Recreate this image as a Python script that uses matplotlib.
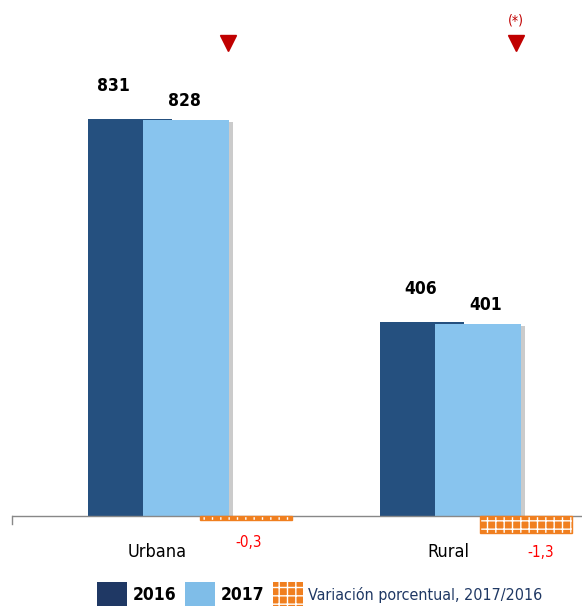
import numpy as np
import matplotlib
matplotlib.use("Agg")
import matplotlib.pyplot as plt
import matplotlib.patheffects as pe
from matplotlib.patches import Patch
from matplotlib.transforms import blended_transform_factory

plt.rcParams['font.family'] = ['DejaVu Sans']
plt.rcParams['font.stretch'] = 'condensed'

categories = ["Urbana", "Rural"]
values_2016 = [831, 406]
values_2017 = [828, 401]
variation = [-0.3, -1.3]
variation_labels = ["-0,3", "-1,3"]
flags = ["", "(*)"]

dark = "#25507F"
light = "#88C4EE"
orange = "#F07F1F"

fig = plt.figure(figsize=(5.82, 6.06), dpi=100)
ax = fig.add_axes([12 / 582, 1 - 540 / 606, 570 / 582, 540 / 606])
ax2 = ax.twinx()

x = np.arange(len(categories))
shadow = [pe.SimplePatchShadow(offset=(2.5, -1), shadow_rgbFace="#999999", alpha=0.5), pe.Normal()]

ax.bar(x - 0.192, values_2016, width=0.288, color=dark, zorder=2)
ax.bar(x, values_2017, width=0.295, color=light, zorder=3, path_effects=shadow)

xv = x + np.array([0.205, 0.165])
ax2.bar(xv, variation, width=0.315, color=orange, edgecolor="white", hatch="++", linewidth=0, zorder=2)
ax2.bar(xv, variation, width=0.315, fill=False, edgecolor=orange, linewidth=1, zorder=3)

ax.set_xlim(-0.596, 1.356)
ax.set_ylim(-50.2, 1079.5)
ax2.set_ylim(-1.835, 39.45)

for a in (ax, ax2):
    for s in a.spines.values():
        s.set_visible(False)
    a.set_yticks([])
    a.set_xticks([])

ax.axhline(0, color="#888888", lw=1, zorder=4)
ax.plot([-0.596, -0.596], [0, -16], color="#888888", lw=1, clip_on=False)

# value labels
for i in range(len(categories)):
    ax.text(x[i] - 0.25 + 0.055 * i, values_2016[i] + 50, str(values_2016[i]),
            ha="center", va="bottom", fontsize=12.5, fontweight="bold")
    ax.text(x[i] - 0.005 + 0.03 * i, values_2017[i] + 22, str(values_2017[i]),
            ha="center", va="bottom", fontsize=12.5, fontweight="bold")
    ax.text(x[i] - 0.1, -75, categories[i], ha="center", va="center", fontsize=13)
ax2.text(xv[0] + 0.01, -2.0, variation_labels[0], ha="center", va="center", fontsize=11, color="red")
ax2.text(xv[1] + 0.05, -2.8, variation_labels[1], ha="center", va="center", fontsize=11, color="red")

# indicator triangles
tr = blended_transform_factory(ax.transData, ax.transAxes)
tri_x = x + np.array([0.144, 0.13])
ax.plot(tri_x, [1 - 43 / 540] * 2, "v", color="#C00000", markersize=11,
        transform=tr, clip_on=False)
for i, f in enumerate(flags):
    if f:
        ax.text(tri_x[i], 1 - 20 / 540, f, transform=tr, ha="center", va="center",
                fontsize=10, color="#C00000")

handles = [Patch(facecolor="#1F3864", label="2016"),
           Patch(facecolor="#7FBDE8", label="2017"),
           Patch(facecolor=orange, edgecolor="white", hatch="++", linewidth=0,
                 label="Variación porcentual, 2017/2016")]
leg = fig.legend(handles=handles, loc="center", bbox_to_anchor=(320 / 582, 1 - 594 / 606),
                 ncol=3, frameon=False, fontsize=13, handlelength=1.65, handleheight=1.7,
                 handletextpad=0.3, columnspacing=0.5)
texts = leg.get_texts()
for t in texts[:2]:
    t.set_fontweight("bold")
    t.set_fontsize(12.5)
texts[2].set_color("#1F3864")
texts[2].set_fontsize(11.5)

fig.savefig("out.png", dpi=100)
